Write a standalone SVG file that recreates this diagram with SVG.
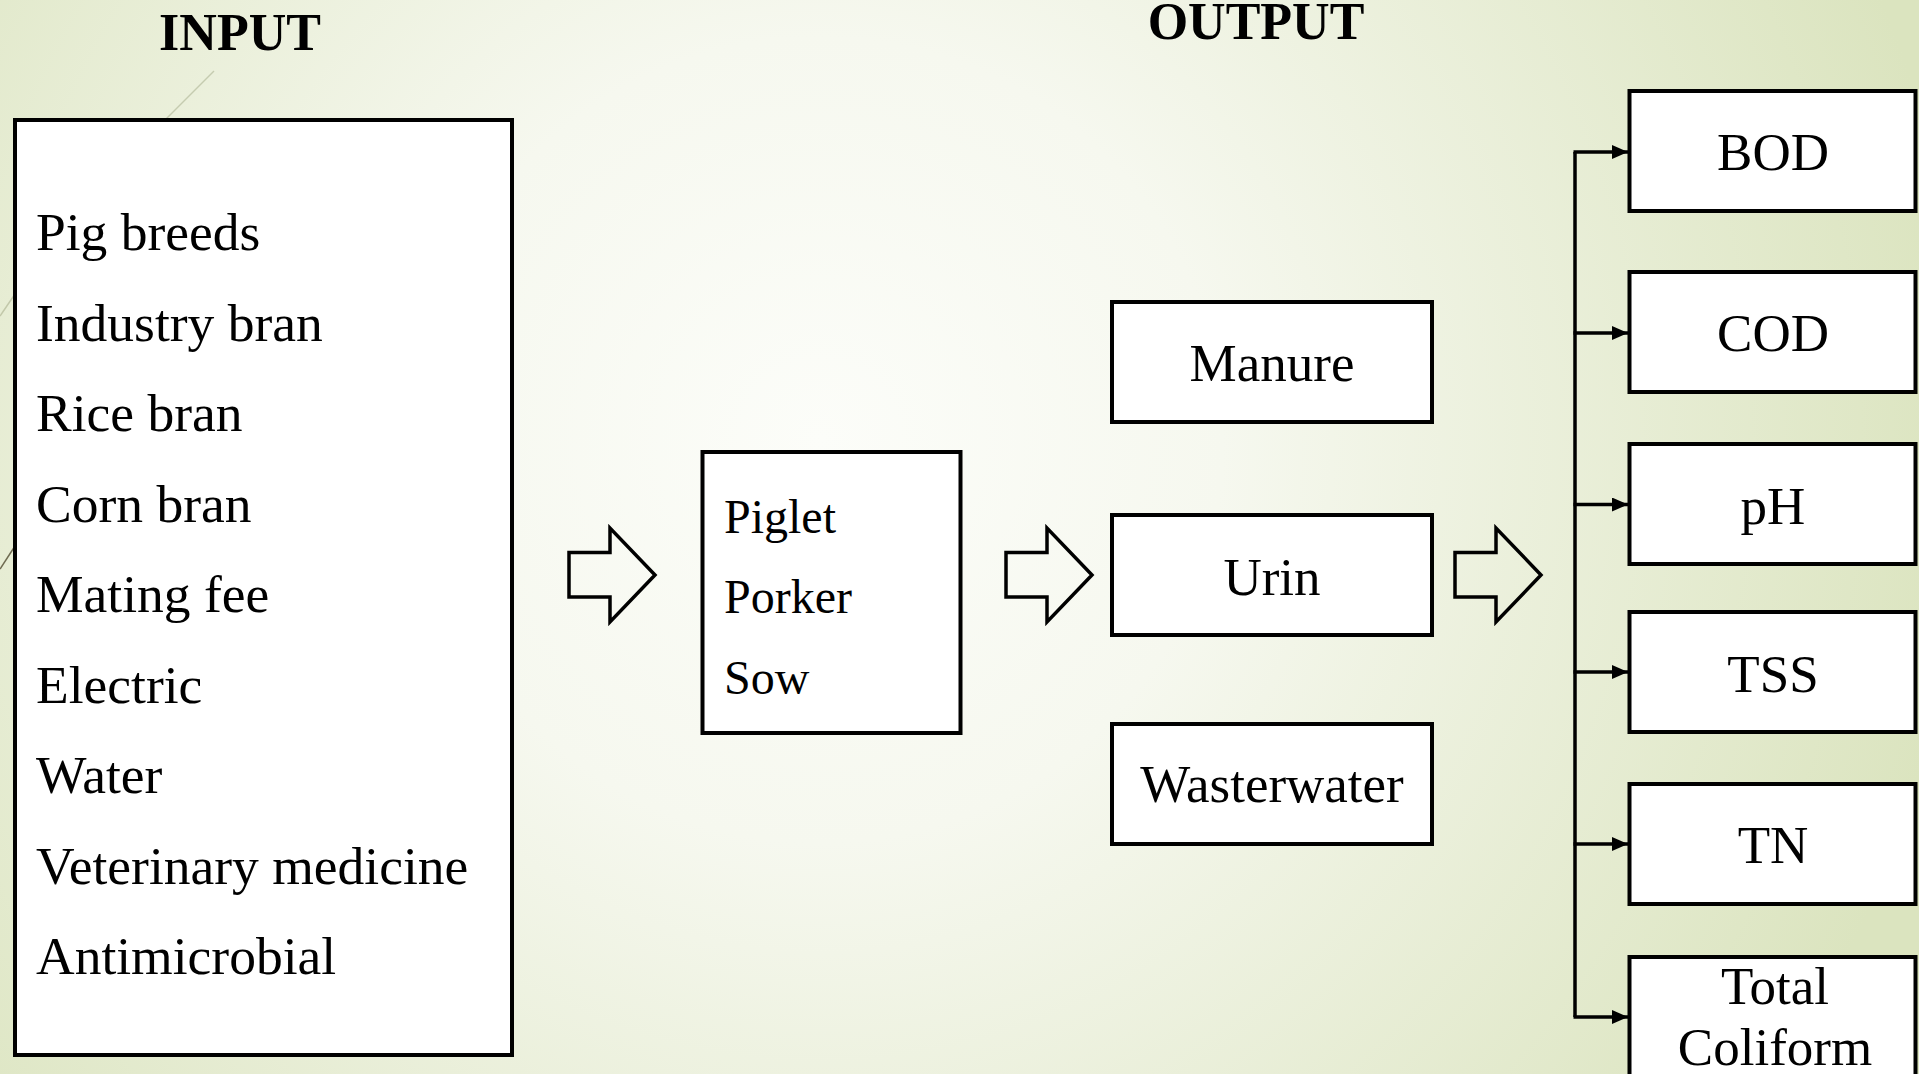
<svg xmlns="http://www.w3.org/2000/svg" width="1919" height="1074" viewBox="0 0 1919 1074">
<defs>
<radialGradient id="bg" gradientUnits="userSpaceOnUse" cx="820" cy="440" r="1150">
<stop offset="0" stop-color="#fcfdf9"/>
<stop offset="0.35" stop-color="#f6f8ef"/>
<stop offset="1" stop-color="#dbe4bf"/>
</radialGradient>
<marker id="ah" markerUnits="userSpaceOnUse" markerWidth="16" markerHeight="14" refX="16" refY="7" orient="auto">
<path d="M0,0 L16,7 L0,14 z" fill="#000"/>
</marker>
<polygon id="hollow" points="0,0 41,0 41,-24.5 86,22.5 41,69.5 41,44.5 0,44.5"/>
</defs>
<style>
.box{fill:#fff;stroke:#000;stroke-width:4}
.t{font-family:"Liberation Serif","Times New Roman",serif;font-size:53.5px;fill:#000}
.tr{font-family:"Liberation Serif","Times New Roman",serif;font-size:53px;fill:#000}
.tm{font-family:"Liberation Serif","Times New Roman",serif;font-size:48px;fill:#000}
.h{font-family:"Liberation Serif","Times New Roman",serif;font-size:52px;font-weight:bold;fill:#000;text-anchor:middle}
.c{text-anchor:middle}
.conn{fill:none;stroke:#000;stroke-width:3.5}
.ha{fill:none;stroke:#000;stroke-width:3.5;stroke-linejoin:miter}
.deco{stroke-width:1.5;fill:none}
</style>
<rect x="0" y="0" width="1919" height="1074" fill="url(#bg)"/>
<g id="decor">
<line class="deco" x1="214" y1="71" x2="165" y2="120" stroke="#c5cbb0"/>
<line class="deco" x1="15" y1="294" x2="0" y2="316" stroke="#c2c8aa"/>
<line class="deco" x1="15" y1="546" x2="0" y2="569" stroke="#6e6a50"/>
</g>
<text class="h" x="240" y="50">INPUT</text>
<text class="h" x="1256" y="39">OUTPUT</text>
<g id="inputs">
<rect class="box" x="15" y="120" width="497" height="935"/>
<text class="t" x="36" y="250">Pig breeds</text>
<text class="t" x="36" y="340.5">Industry bran</text>
<text class="t" x="36" y="431">Rice bran</text>
<text class="t" x="36" y="521.5">Corn bran</text>
<text class="t" x="36" y="612">Mating fee</text>
<text class="t" x="36" y="702.5">Electric</text>
<text class="t" x="36" y="793">Water</text>
<text class="t" x="36" y="883.5">Veterinary medicine</text>
<text class="t" x="36" y="974">Antimicrobial</text>
</g>
<g id="pigs">
<rect class="box" x="702.5" y="452" width="258" height="281"/>
<text class="tm" x="724" y="533">Piglet</text>
<text class="tm" x="724" y="613">Porker</text>
<text class="tm" x="724" y="694">Sow</text>
</g>
<g id="manure">
<rect class="box" x="1112" y="302" width="320" height="120"/>
<text class="tr c" x="1272" y="381">Manure</text>
</g>
<g id="urin">
<rect class="box" x="1112" y="515" width="320" height="120"/>
<text class="tr c" x="1272" y="595">Urin</text>
</g>
<g id="wastewater">
<rect class="box" x="1112" y="724" width="320" height="120"/>
<text class="tr c" x="1272" y="802">Wasterwater</text>
</g>
<g id="bod">
<rect class="box" x="1629.5" y="91" width="286" height="120"/>
<text class="tr c" x="1773" y="170">BOD</text>
</g>
<g id="cod">
<rect class="box" x="1629.5" y="272" width="286" height="120"/>
<text class="tr c" x="1773" y="351">COD</text>
</g>
<g id="ph">
<rect class="box" x="1629.5" y="444" width="286" height="120"/>
<text class="tr c" x="1773" y="524">pH</text>
</g>
<g id="tss">
<rect class="box" x="1629.5" y="612" width="286" height="120"/>
<text class="tr c" x="1773" y="692">TSS</text>
</g>
<g id="tn">
<rect class="box" x="1629.5" y="784" width="286" height="120"/>
<text class="tr c" x="1773" y="863">TN</text>
</g>
<g id="coliform">
<rect class="box" x="1629.5" y="957" width="286" height="140"/>
<text class="tr c" x="1775" y="1004">Total</text>
<text class="tr c" x="1775" y="1065">Coliform</text>
</g>
<g id="connectors">
<use href="#hollow" class="ha" x="569" y="552.5"/>
<use href="#hollow" class="ha" x="1006" y="552.5"/>
<use href="#hollow" class="ha" x="1455" y="552.5"/>
<path class="conn" d="M1575,152 V1017"/>
<line class="conn" x1="1573.5" y1="152" x2="1628" y2="152" marker-end="url(#ah)"/>
<line class="conn" x1="1573.5" y1="333" x2="1628" y2="333" marker-end="url(#ah)"/>
<line class="conn" x1="1573.5" y1="504.5" x2="1628" y2="504.5" marker-end="url(#ah)"/>
<line class="conn" x1="1573.5" y1="672" x2="1628" y2="672" marker-end="url(#ah)"/>
<line class="conn" x1="1573.5" y1="844" x2="1628" y2="844" marker-end="url(#ah)"/>
<line class="conn" x1="1573.5" y1="1017" x2="1628" y2="1017" marker-end="url(#ah)"/>
</g>
</svg>
